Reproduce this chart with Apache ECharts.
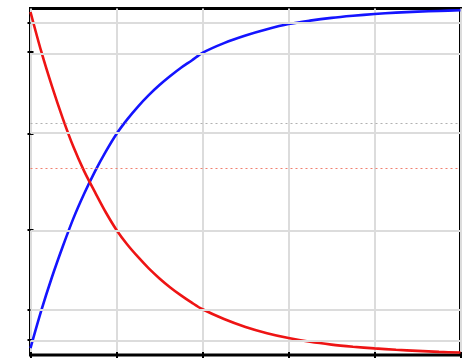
<!DOCTYPE html>
<html>
<head>
<meta charset="utf-8">
<script src="https://cdn.jsdelivr.net/npm/echarts@6/dist/echarts.min.js"></script>
<style>
html,body{margin:0;padding:0;background:#fff;}
#c{width:462px;height:361px;}
</style>
</head>
<body>
<div id="c"></div>
<script>
// time in units of tau
var xs = [0,0.125,0.25,0.375,0.5,0.625,0.75,0.875,1,1.125,1.25,1.375,1.5,1.625,1.75,1.875,2,2.25,2.5,2.75,3,3.25,3.5,3.75,4,4.25,4.5,4.75,5];
// charging curve (blue)
var chargeVals = [0.02,0.128,0.225,0.313,0.395,0.466,0.53,0.587,0.638,0.68,0.717,0.75,0.779,0.805,0.829,0.85,0.872,0.9,0.922,0.94,0.955,0.965,0.973,0.979,0.984,0.988,0.991,0.993,0.995];
// discharging curve (red)
var dischargeVals = [0.99,0.876,0.775,0.683,0.6,0.53,0.47,0.412,0.361,0.319,0.283,0.25,0.221,0.195,0.172,0.151,0.132,0.104,0.081,0.063,0.049,0.038,0.03,0.024,0.019,0.015,0.012,0.009,0.007];
// horizontal reference grid levels
var gridLevels = [0.043,0.130,0.361,0.638,0.874,0.958];
// dotted reference levels
var dottedGray = [0.672];
var dottedRed = [0.535];

function pairs(xv, yv){ return xv.map(function(x,i){ return [x, yv[i]]; }); }

var chart = echarts.init(document.getElementById('c'), null, {renderer:'canvas'});
var axisCommon = {
  type:'value', min:0, max:5, interval:1,
  axisLine:{show:false}, axisLabel:{show:false},
  axisTick:{show:true, inside:true, length:3, lineStyle:{color:'#000', width:2}}
};
chart.setOption({
  animation:false,
  backgroundColor:'#fff',
  grid:{left:30.5, right:1.5, top:8.5, bottom:6, show:true, borderColor:'#000', borderWidth:3, backgroundColor:'transparent'},
  xAxis:[
    Object.assign({}, axisCommon, {position:'bottom', splitLine:{show:true, lineStyle:{color:'#dcdcdc', width:2}}}),
    Object.assign({}, axisCommon, {position:'top', splitLine:{show:false}})
  ],
  yAxis:[
    {type:'value', min:0, max:1, position:'left', axisLine:{show:false}, axisLabel:{show:false}, splitLine:{show:false},
     axisTick:{show:true, inside:true, length:3, customValues:gridLevels, lineStyle:{color:'#000', width:2}}},
    {type:'value', min:0, max:1, position:'right', axisLine:{show:false}, axisLabel:{show:false}, splitLine:{show:false},
     axisTick:{show:true, inside:true, length:3, customValues:gridLevels, lineStyle:{color:'#000', width:2}}}
  ],
  series:[
    {type:'line', z:1, data:[[0,0]], showSymbol:false, symbol:'none', lineStyle:{width:0, opacity:0}, silent:true,
     markLine:{silent:true, symbol:'none', label:{show:false}, animation:false,
       data: gridLevels.map(function(v){ return {yAxis:v, lineStyle:{color:'#dcdcdc', width:2, type:'solid'}}; })
         .concat(dottedGray.map(function(v){ return {yAxis:v, lineStyle:{color:'#b0b0b0', width:1, type:[2,3]}}; }))
         .concat(dottedRed.map(function(v){ return {yAxis:v, lineStyle:{color:'#f08070', width:1, type:[2,3]}}; }))
     }},
    {type:'line', z:3, data:pairs(xs, chargeVals), smooth:0.3, showSymbol:false, symbol:'none',
     lineStyle:{color:'#1414ff', width:2.6}},
    {type:'line', z:4, data:pairs(xs, dischargeVals), smooth:0.3, showSymbol:false, symbol:'none',
     lineStyle:{color:'#ee1414', width:2.6}}
  ]
});
</script>
</body>
</html>
